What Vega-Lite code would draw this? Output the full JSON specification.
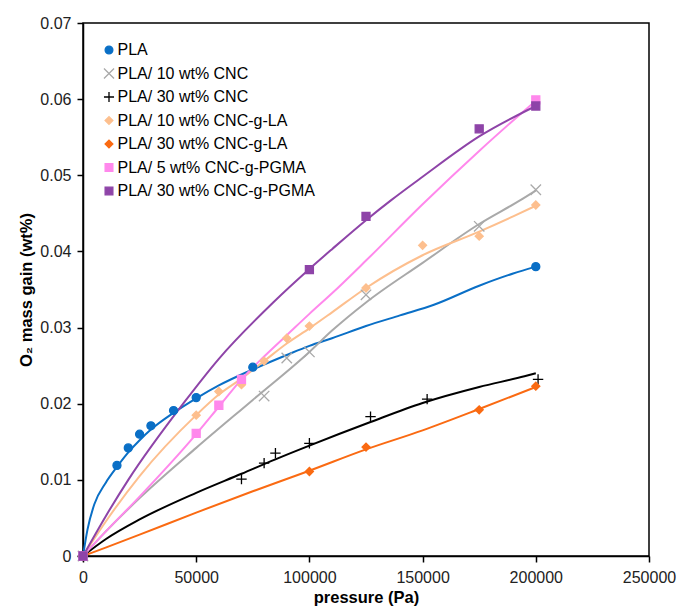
{
  "$schema": "https://vega.github.io/schema/vega-lite/v6.json",
  "width": 566,
  "height": 533,
  "autosize": "none",
  "padding": {"left": 83, "top": 23, "right": 29, "bottom": 52},
  "background": "white",
  "config": {
    "font": "Liberation Sans",
    "view": {"stroke": "#000000", "strokeWidth": 1.5},
    "axis": {
      "grid": false,
      "labelFlush": false,
      "domainColor": "#000000",
      "domainWidth": 1.5,
      "tickColor": "#000000",
      "tickWidth": 1.5,
      "tickSize": 6,
      "labelFont": "Liberation Sans",
      "labelFontSize": 16,
      "labelColor": "#222222",
      "titleFont": "Liberation Sans",
      "titleFontSize": 16.5,
      "titleFontWeight": "bold",
      "titleColor": "#000000"
    }
  },
  "datasets": {
    "lines": [
      {"series": "PLA", "pressure": 0, "gain": 0},
      {"series": "PLA", "pressure": 2000, "gain": 0.0035},
      {"series": "PLA", "pressure": 5000, "gain": 0.0068},
      {"series": "PLA", "pressure": 10000, "gain": 0.0096},
      {"series": "PLA", "pressure": 15000, "gain": 0.0117},
      {"series": "PLA", "pressure": 20000, "gain": 0.0136},
      {"series": "PLA", "pressure": 25000, "gain": 0.0152},
      {"series": "PLA", "pressure": 30000, "gain": 0.0166},
      {"series": "PLA", "pressure": 40000, "gain": 0.0188},
      {"series": "PLA", "pressure": 50000, "gain": 0.0207},
      {"series": "PLA", "pressure": 60000, "gain": 0.0224},
      {"series": "PLA", "pressure": 75000, "gain": 0.0245},
      {"series": "PLA", "pressure": 90000, "gain": 0.0264},
      {"series": "PLA", "pressure": 100000, "gain": 0.0276},
      {"series": "PLA", "pressure": 110000, "gain": 0.0286},
      {"series": "PLA", "pressure": 125000, "gain": 0.0302},
      {"series": "PLA", "pressure": 140000, "gain": 0.0316},
      {"series": "PLA", "pressure": 155000, "gain": 0.033},
      {"series": "PLA", "pressure": 175000, "gain": 0.0355},
      {"series": "PLA", "pressure": 190000, "gain": 0.0371},
      {"series": "PLA", "pressure": 200000, "gain": 0.038},

      {"series": "PLA/ 10 wt% CNC", "pressure": 0, "gain": 0},
      {"series": "PLA/ 10 wt% CNC", "pressure": 10000, "gain": 0.0032},
      {"series": "PLA/ 10 wt% CNC", "pressure": 25000, "gain": 0.0076},
      {"series": "PLA/ 10 wt% CNC", "pressure": 50000, "gain": 0.0142},
      {"series": "PLA/ 10 wt% CNC", "pressure": 75000, "gain": 0.0205},
      {"series": "PLA/ 10 wt% CNC", "pressure": 100000, "gain": 0.0268},
      {"series": "PLA/ 10 wt% CNC", "pressure": 110000, "gain": 0.0296},
      {"series": "PLA/ 10 wt% CNC", "pressure": 125000, "gain": 0.0333},
      {"series": "PLA/ 10 wt% CNC", "pressure": 150000, "gain": 0.0385},
      {"series": "PLA/ 10 wt% CNC", "pressure": 175000, "gain": 0.0436},
      {"series": "PLA/ 10 wt% CNC", "pressure": 193000, "gain": 0.0467},
      {"series": "PLA/ 10 wt% CNC", "pressure": 200000, "gain": 0.048},

      {"series": "PLA/ 30 wt% CNC", "pressure": 0, "gain": 0},
      {"series": "PLA/ 30 wt% CNC", "pressure": 10000, "gain": 0.0022},
      {"series": "PLA/ 30 wt% CNC", "pressure": 25000, "gain": 0.0048},
      {"series": "PLA/ 30 wt% CNC", "pressure": 50000, "gain": 0.0083},
      {"series": "PLA/ 30 wt% CNC", "pressure": 70000, "gain": 0.0108},
      {"series": "PLA/ 30 wt% CNC", "pressure": 85000, "gain": 0.0127},
      {"series": "PLA/ 30 wt% CNC", "pressure": 100000, "gain": 0.0145},
      {"series": "PLA/ 30 wt% CNC", "pressure": 127000, "gain": 0.0176},
      {"series": "PLA/ 30 wt% CNC", "pressure": 150000, "gain": 0.0201},
      {"series": "PLA/ 30 wt% CNC", "pressure": 175000, "gain": 0.0222},
      {"series": "PLA/ 30 wt% CNC", "pressure": 195000, "gain": 0.0236},
      {"series": "PLA/ 30 wt% CNC", "pressure": 200000, "gain": 0.024},

      {"series": "PLA/ 10 wt% CNC-g-LA", "pressure": 0, "gain": 0},
      {"series": "PLA/ 10 wt% CNC-g-LA", "pressure": 10000, "gain": 0.0045},
      {"series": "PLA/ 10 wt% CNC-g-LA", "pressure": 25000, "gain": 0.0105},
      {"series": "PLA/ 10 wt% CNC-g-LA", "pressure": 50000, "gain": 0.0185},
      {"series": "PLA/ 10 wt% CNC-g-LA", "pressure": 60000, "gain": 0.0212},
      {"series": "PLA/ 10 wt% CNC-g-LA", "pressure": 70000, "gain": 0.0233},
      {"series": "PLA/ 10 wt% CNC-g-LA", "pressure": 80000, "gain": 0.0256},
      {"series": "PLA/ 10 wt% CNC-g-LA", "pressure": 90000, "gain": 0.0279},
      {"series": "PLA/ 10 wt% CNC-g-LA", "pressure": 100000, "gain": 0.0299},
      {"series": "PLA/ 10 wt% CNC-g-LA", "pressure": 110000, "gain": 0.032},
      {"series": "PLA/ 10 wt% CNC-g-LA", "pressure": 125000, "gain": 0.0352},
      {"series": "PLA/ 10 wt% CNC-g-LA", "pressure": 150000, "gain": 0.0395},
      {"series": "PLA/ 10 wt% CNC-g-LA", "pressure": 175000, "gain": 0.0426},
      {"series": "PLA/ 10 wt% CNC-g-LA", "pressure": 190000, "gain": 0.0446},
      {"series": "PLA/ 10 wt% CNC-g-LA", "pressure": 200000, "gain": 0.046},

      {"series": "PLA/ 30 wt% CNC-g-LA", "pressure": 0, "gain": 0},
      {"series": "PLA/ 30 wt% CNC-g-LA", "pressure": 10000, "gain": 0.0011},
      {"series": "PLA/ 30 wt% CNC-g-LA", "pressure": 25000, "gain": 0.0028},
      {"series": "PLA/ 30 wt% CNC-g-LA", "pressure": 50000, "gain": 0.0057},
      {"series": "PLA/ 30 wt% CNC-g-LA", "pressure": 75000, "gain": 0.0085},
      {"series": "PLA/ 30 wt% CNC-g-LA", "pressure": 100000, "gain": 0.0112},
      {"series": "PLA/ 30 wt% CNC-g-LA", "pressure": 125000, "gain": 0.014},
      {"series": "PLA/ 30 wt% CNC-g-LA", "pressure": 150000, "gain": 0.0165},
      {"series": "PLA/ 30 wt% CNC-g-LA", "pressure": 175000, "gain": 0.0193},
      {"series": "PLA/ 30 wt% CNC-g-LA", "pressure": 200000, "gain": 0.0222},

      {"series": "PLA/ 5 wt% CNC-g-PGMA", "pressure": 0, "gain": 0},
      {"series": "PLA/ 5 wt% CNC-g-PGMA", "pressure": 10000, "gain": 0.0032},
      {"series": "PLA/ 5 wt% CNC-g-PGMA", "pressure": 25000, "gain": 0.0078},
      {"series": "PLA/ 5 wt% CNC-g-PGMA", "pressure": 50000, "gain": 0.016},
      {"series": "PLA/ 5 wt% CNC-g-PGMA", "pressure": 60000, "gain": 0.0196},
      {"series": "PLA/ 5 wt% CNC-g-PGMA", "pressure": 70000, "gain": 0.0232},
      {"series": "PLA/ 5 wt% CNC-g-PGMA", "pressure": 80000, "gain": 0.0262},
      {"series": "PLA/ 5 wt% CNC-g-PGMA", "pressure": 90000, "gain": 0.029},
      {"series": "PLA/ 5 wt% CNC-g-PGMA", "pressure": 100000, "gain": 0.0318},
      {"series": "PLA/ 5 wt% CNC-g-PGMA", "pressure": 110000, "gain": 0.0345},
      {"series": "PLA/ 5 wt% CNC-g-PGMA", "pressure": 125000, "gain": 0.0388},
      {"series": "PLA/ 5 wt% CNC-g-PGMA", "pressure": 150000, "gain": 0.0462},
      {"series": "PLA/ 5 wt% CNC-g-PGMA", "pressure": 175000, "gain": 0.0532},
      {"series": "PLA/ 5 wt% CNC-g-PGMA", "pressure": 190000, "gain": 0.0572},
      {"series": "PLA/ 5 wt% CNC-g-PGMA", "pressure": 200000, "gain": 0.0598},

      {"series": "PLA/ 30 wt% CNC-g-PGMA", "pressure": 0, "gain": 0},
      {"series": "PLA/ 30 wt% CNC-g-PGMA", "pressure": 10000, "gain": 0.0052},
      {"series": "PLA/ 30 wt% CNC-g-PGMA", "pressure": 20000, "gain": 0.01},
      {"series": "PLA/ 30 wt% CNC-g-PGMA", "pressure": 45000, "gain": 0.0203},
      {"series": "PLA/ 30 wt% CNC-g-PGMA", "pressure": 60000, "gain": 0.0259},
      {"series": "PLA/ 30 wt% CNC-g-PGMA", "pressure": 84000, "gain": 0.0333},
      {"series": "PLA/ 30 wt% CNC-g-PGMA", "pressure": 100000, "gain": 0.0377},
      {"series": "PLA/ 30 wt% CNC-g-PGMA", "pressure": 110000, "gain": 0.0403},
      {"series": "PLA/ 30 wt% CNC-g-PGMA", "pressure": 125000, "gain": 0.0441},
      {"series": "PLA/ 30 wt% CNC-g-PGMA", "pressure": 136000, "gain": 0.0467},
      {"series": "PLA/ 30 wt% CNC-g-PGMA", "pressure": 150000, "gain": 0.0498},
      {"series": "PLA/ 30 wt% CNC-g-PGMA", "pressure": 175000, "gain": 0.0551},
      {"series": "PLA/ 30 wt% CNC-g-PGMA", "pressure": 200000, "gain": 0.0591}
    ],
    "points": [
      {"series": "PLA", "pressure": 0, "gain": 0},
      {"series": "PLA", "pressure": 15000, "gain": 0.0119},
      {"series": "PLA", "pressure": 20000, "gain": 0.0142},
      {"series": "PLA", "pressure": 25000, "gain": 0.016},
      {"series": "PLA", "pressure": 30000, "gain": 0.0171},
      {"series": "PLA", "pressure": 40000, "gain": 0.0191},
      {"series": "PLA", "pressure": 50000, "gain": 0.0208},
      {"series": "PLA", "pressure": 75000, "gain": 0.0248},
      {"series": "PLA", "pressure": 200000, "gain": 0.038},

      {"series": "PLA/ 10 wt% CNC", "pressure": 0, "gain": 0},
      {"series": "PLA/ 10 wt% CNC", "pressure": 80000, "gain": 0.021},
      {"series": "PLA/ 10 wt% CNC", "pressure": 90000, "gain": 0.026},
      {"series": "PLA/ 10 wt% CNC", "pressure": 100000, "gain": 0.0268},
      {"series": "PLA/ 10 wt% CNC", "pressure": 125000, "gain": 0.0343},
      {"series": "PLA/ 10 wt% CNC", "pressure": 175000, "gain": 0.0433},
      {"series": "PLA/ 10 wt% CNC", "pressure": 200000, "gain": 0.0481},

      {"series": "PLA/ 30 wt% CNC", "pressure": 0, "gain": 0},
      {"series": "PLA/ 30 wt% CNC", "pressure": 70000, "gain": 0.0101},
      {"series": "PLA/ 30 wt% CNC", "pressure": 80000, "gain": 0.0122},
      {"series": "PLA/ 30 wt% CNC", "pressure": 85000, "gain": 0.0135},
      {"series": "PLA/ 30 wt% CNC", "pressure": 100000, "gain": 0.0148},
      {"series": "PLA/ 30 wt% CNC", "pressure": 127000, "gain": 0.0183},
      {"series": "PLA/ 30 wt% CNC", "pressure": 152000, "gain": 0.0206},
      {"series": "PLA/ 30 wt% CNC", "pressure": 201000, "gain": 0.0232},

      {"series": "PLA/ 10 wt% CNC-g-LA", "pressure": 0, "gain": 0},
      {"series": "PLA/ 10 wt% CNC-g-LA", "pressure": 50000, "gain": 0.0185},
      {"series": "PLA/ 10 wt% CNC-g-LA", "pressure": 60000, "gain": 0.0216},
      {"series": "PLA/ 10 wt% CNC-g-LA", "pressure": 70000, "gain": 0.0225},
      {"series": "PLA/ 10 wt% CNC-g-LA", "pressure": 80000, "gain": 0.0256},
      {"series": "PLA/ 10 wt% CNC-g-LA", "pressure": 90000, "gain": 0.0286},
      {"series": "PLA/ 10 wt% CNC-g-LA", "pressure": 100000, "gain": 0.0302},
      {"series": "PLA/ 10 wt% CNC-g-LA", "pressure": 125000, "gain": 0.0352},
      {"series": "PLA/ 10 wt% CNC-g-LA", "pressure": 150000, "gain": 0.0408},
      {"series": "PLA/ 10 wt% CNC-g-LA", "pressure": 175000, "gain": 0.042},
      {"series": "PLA/ 10 wt% CNC-g-LA", "pressure": 200000, "gain": 0.0461},

      {"series": "PLA/ 30 wt% CNC-g-LA", "pressure": 0, "gain": 0},
      {"series": "PLA/ 30 wt% CNC-g-LA", "pressure": 100000, "gain": 0.0111},
      {"series": "PLA/ 30 wt% CNC-g-LA", "pressure": 125000, "gain": 0.0143},
      {"series": "PLA/ 30 wt% CNC-g-LA", "pressure": 175000, "gain": 0.0192},
      {"series": "PLA/ 30 wt% CNC-g-LA", "pressure": 200000, "gain": 0.0223},

      {"series": "PLA/ 5 wt% CNC-g-PGMA", "pressure": 0, "gain": 0},
      {"series": "PLA/ 5 wt% CNC-g-PGMA", "pressure": 50000, "gain": 0.0161},
      {"series": "PLA/ 5 wt% CNC-g-PGMA", "pressure": 60000, "gain": 0.0198},
      {"series": "PLA/ 5 wt% CNC-g-PGMA", "pressure": 70000, "gain": 0.0232},
      {"series": "PLA/ 5 wt% CNC-g-PGMA", "pressure": 200000, "gain": 0.0599},

      {"series": "PLA/ 30 wt% CNC-g-PGMA", "pressure": 0, "gain": 0},
      {"series": "PLA/ 30 wt% CNC-g-PGMA", "pressure": 100000, "gain": 0.0376},
      {"series": "PLA/ 30 wt% CNC-g-PGMA", "pressure": 125000, "gain": 0.0446},
      {"series": "PLA/ 30 wt% CNC-g-PGMA", "pressure": 175000, "gain": 0.0561},
      {"series": "PLA/ 30 wt% CNC-g-PGMA", "pressure": 200000, "gain": 0.0591}
    ]
  },
  "layer": [
    {
      "data": {"name": "lines"},
      "mark": {"type": "line", "strokeWidth": 2, "interpolate": "monotone"},
      "encoding": {
        "x": {
          "field": "pressure", "type": "quantitative",
          "scale": {"domain": [0, 250000], "nice": false, "zero": true},
          "axis": {"values": [0, 50000, 100000, 150000, 200000, 250000], "format": "d", "title": "pressure (Pa)", "labelPadding": 7, "titlePadding": 4}
        },
        "y": {
          "field": "gain", "type": "quantitative",
          "scale": {"domain": [0, 0.07], "nice": false},
          "axis": {"values": [0, 0.01, 0.02, 0.03, 0.04, 0.05, 0.06, 0.07], "format": ".2~f", "title": "O₂ mass gain (wt%)", "labelPadding": 6, "titlePadding": 5}
        },
        "color": {
          "field": "series", "type": "nominal", "legend": null,
          "scale": {
            "domain": ["PLA", "PLA/ 10 wt% CNC", "PLA/ 30 wt% CNC", "PLA/ 10 wt% CNC-g-LA", "PLA/ 30 wt% CNC-g-LA", "PLA/ 5 wt% CNC-g-PGMA", "PLA/ 30 wt% CNC-g-PGMA", "unused"],
            "range": ["#0A6FC6", "#A9A9A9", "#000000", "#FDBF8E", "#FA6A12", "#FF88EC", "#8E44A8", "#ffffff"]
          }
        },
        "order": {"field": "pressure", "type": "quantitative"}
      }
    },
    {
      "data": {"name": "points"},
      "mark": {"type": "point", "filled": true, "size": 64, "strokeWidth": 1.3, "opacity": 1},
      "encoding": {
        "x": {"field": "pressure", "type": "quantitative"},
        "y": {"field": "gain", "type": "quantitative"},
        "shape": {
          "field": "series", "type": "nominal",
          "scale": {
            "domain": ["PLA", "PLA/ 10 wt% CNC", "PLA/ 30 wt% CNC", "PLA/ 10 wt% CNC-g-LA", "PLA/ 30 wt% CNC-g-LA", "PLA/ 5 wt% CNC-g-PGMA", "PLA/ 30 wt% CNC-g-PGMA"],
            "range": ["circle", "M-1.3,-1.3L1.3,1.3M-1.3,1.3L1.3,-1.3", "M-1.3,0L1.3,0M0,-1.3L0,1.3", "diamond", "diamond", "square", "square"]
          },
          "legend": {"title": null, "orient": "none", "legendX": 18, "legendY": 19, "labelFontSize": 16, "labelFont": "Liberation Sans", "labelColor": "#000000", "labelLimit": 0, "symbolSize": 60, "symbolStrokeWidth": 1.3, "rowPadding": 7.5, "labelOffset": 0.5, "symbolOpacity": 1}
        },
        "fill": {
          "field": "series", "type": "nominal",
          "scale": {
            "domain": ["PLA", "PLA/ 10 wt% CNC", "PLA/ 30 wt% CNC", "PLA/ 10 wt% CNC-g-LA", "PLA/ 30 wt% CNC-g-LA", "PLA/ 5 wt% CNC-g-PGMA", "PLA/ 30 wt% CNC-g-PGMA"],
            "range": ["#0A6FC6", "transparent", "transparent", "#FDBF8E", "#FA6A12", "#FF88EC", "#8E44A8"]
          },
          "legend": {"title": null, "orient": "none", "legendX": 18, "legendY": 19, "labelFontSize": 16, "labelFont": "Liberation Sans", "labelColor": "#000000", "labelLimit": 0, "symbolSize": 60, "symbolStrokeWidth": 1.3, "rowPadding": 7.5, "labelOffset": 0.5, "symbolOpacity": 1}
        },
        "stroke": {
          "field": "series", "type": "nominal",
          "scale": {
            "domain": ["PLA", "PLA/ 10 wt% CNC", "PLA/ 30 wt% CNC", "PLA/ 10 wt% CNC-g-LA", "PLA/ 30 wt% CNC-g-LA", "PLA/ 5 wt% CNC-g-PGMA", "PLA/ 30 wt% CNC-g-PGMA"],
            "range": ["#0A6FC6", "#A9A9A9", "#000000", "#FDBF8E", "#FA6A12", "#FF88EC", "#8E44A8"]
          },
          "legend": {"title": null, "orient": "none", "legendX": 18, "legendY": 19, "labelFontSize": 16, "labelFont": "Liberation Sans", "labelColor": "#000000", "labelLimit": 0, "symbolSize": 60, "symbolStrokeWidth": 1.3, "rowPadding": 7.5, "labelOffset": 0.5, "symbolOpacity": 1}
        }
      }
    }
  ]
}
